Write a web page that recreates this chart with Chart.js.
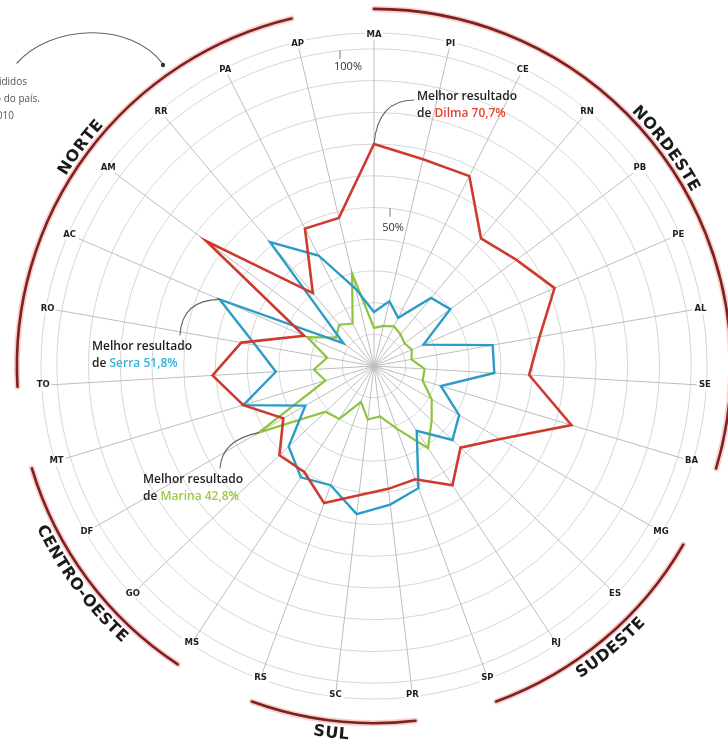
<!DOCTYPE html>
<html><head><meta charset="utf-8">
<script src="https://cdn.jsdelivr.net/npm/chart.js@4"></script>
<style>html,body{margin:0;padding:0;background:#fff;overflow:hidden}</style>
</head><body>
<canvas id="c" width="728" height="744"></canvas>
<script>
const states = ['MA','PI','CE','RN','PB','PE','AL','SE','BA','MG','ES','RJ','SP','PR','SC','RS','MS','GO','DF','MT','TO','RO','AC','AM','RR','PA','AP'];
const dilma  = [70, 67, 67, 52.5, 56, 62, 53, 49, 65, 46, 37.5, 45, 38, 39, 41, 46, 40, 41, 33, 43, 51, 42.5, 24, 66, 30, 48.5, 48];
const serra  = [17, 21, 17, 28, 30, 17, 38, 38, 22, 31, 34, 24.5, 41, 44, 47, 40, 42, 37, 25, 43, 31, 38, 53, 12, 51, 39, 25];
const marina = [12, 13, 14, 13, 12, 13, 12, 16, 16, 21, 25, 31, 21, 16, 17, 12, 20, 21, 42, 16, 19, 15, 23, 15, 17, 15, 30];
const regionNames = ['NORDESTE','SUDESTE','SUL','CENTRO-OESTE','NORTE'];
const regionFirst = ['MA','MG','PR','MS','TO'];
const regionLast  = ['BA','SP','RS','MT','AP'];
const notes = [
  {lines:['Melhor resultado','de ','Dilma 70,7%'], color:'#e8412f'},
  {lines:['Melhor resultado','de ','Serra 51,8%'], color:'#36b2dc'},
  {lines:['Melhor resultado','de ','Marina 42,8%'], color:'#9ccc3c'}
];
const sideText = ['Estados divididos','por região do país.','2010'];

const decor = {
  id:'decor',
  afterDraw(chart){
    const s = chart.scales.r, c = chart.ctx;
    const xc = s.xCenter, yc = s.yCenter;
    const HP = Math.PI/2;
    c.save();
    // category labels on outer ring
    c.font = 'bold 8.5px "DejaVu Sans"';
    c.textAlign='center'; c.textBaseline='middle';
    states.forEach((st,i)=>{
      const p = s.getPointPositionForValue(i, 104.5);
      const w = c.measureText(st).width;
      c.fillStyle='#fff'; c.fillRect(p.x-w/2-2,p.y-5,w+4,10);
      c.fillStyle='#1e1e1e'; c.fillText(st,p.x,p.y);
    });
    // region arcs + labels
    const R = s.getDistanceFromCenterForValue(112.6);
    regionNames.forEach((nm,k)=>{
      const a0 = s.getIndexAngle(states.indexOf(regionFirst[k]));
      let a1 = s.getIndexAngle(states.indexOf(regionLast[k]));
      if (a1 < a0) a1 += Math.PI*2;
      c.lineCap='round';
      c.strokeStyle='rgba(230,120,110,0.35)'; c.lineWidth=6;
      c.beginPath(); c.arc(xc,yc,R,a0-HP,a1-HP); c.stroke();
      c.strokeStyle='#7e2020'; c.lineWidth=2.6;
      c.beginPath(); c.arc(xc,yc,R,a0-HP,a1-HP); c.stroke();
      let mid = (a0+a1)/2; mid = ((mid%(2*Math.PI))+2*Math.PI)%(2*Math.PI);
      c.font='bold 16px "DejaVu Sans"'; c.fillStyle='#1a1a1a';
      c.textAlign='center'; c.textBaseline='alphabetic';
      const sp = 0.6;
      const ws = [...nm].map(ch=>c.measureText(ch).width+sp);
      const tot = ws.reduce((a,b)=>a+b,0)-sp;
      const top = (mid < HP || mid > 3*HP);
      const Rt = top ? R+5 : R+17;
      let cum = 0;
      [...nm].forEach((ch,j)=>{
        const off = (cum + (ws[j]-sp)/2)/Rt;
        const a = top ? mid - tot/(2*Rt) + off : mid + tot/(2*Rt) - off;
        const x = xc + Rt*Math.sin(a), y = yc - Rt*Math.cos(a);
        c.save(); c.translate(x,y); c.rotate(top ? a : a-Math.PI);
        c.fillText(ch,0,0); c.restore();
        cum += ws[j];
      });
    });
    // percentage labels
    const r100 = s.getDistanceFromCenterForValue(100), r50 = s.getDistanceFromCenterForValue(50);
    c.strokeStyle='#777'; c.lineWidth=1;
    c.beginPath(); c.moveTo(xc-34, yc-r100+2); c.lineTo(xc-34, yc-r100+10); c.stroke();
    c.beginPath(); c.moveTo(xc+16, yc-r50+1); c.lineTo(xc+16, yc-r50+9); c.stroke();
    c.font='11px "Open Sans"'; c.fillStyle='#333'; c.textAlign='center'; c.textBaseline='middle';
    c.fillText('100%', xc-26, yc-r100+18);
    c.fillText('50%', xc+19, yc-r50+20);
    // annotations
    const ann = [
      {x:417,y:97, idx:0, val:dilma[0], cx: xc+4, cy: 100, sx:414, sy:100},
      {x:92,y:347, idx:22, val:serra[22], cx:182, cy:300, sx:180, sy:335},
      {x:143,y:480, idx:18, val:marina[18], cx:222, cy:440, sx:220, sy:468}
    ];
    ann.forEach((a,k)=>{
      const n = notes[k];
      const p = s.getPointPositionForValue(a.idx, a.val);
      c.strokeStyle='#666'; c.lineWidth=1.1;
      c.beginPath(); c.moveTo(a.sx,a.sy); c.quadraticCurveTo(a.cx,a.cy,p.x,p.y); c.stroke();
      c.font='600 12px "Open Sans"'; c.textAlign='left'; c.textBaseline='middle';
      c.fillStyle='#222'; c.fillText(n.lines[0], a.x, a.y);
      c.fillText(n.lines[1], a.x, a.y+17);
      const w = c.measureText(n.lines[1]).width;
      c.fillStyle=n.color; c.fillText(n.lines[2], a.x+w, a.y+17);
    });
    // side note + arrow
    c.font='10px "Open Sans"'; c.fillStyle='#555'; c.textAlign='right';
    c.fillText(sideText[0], 27, 82); c.fillText(sideText[1], 40, 99); c.fillText(sideText[2], 14, 116);
    c.strokeStyle='#666'; c.lineWidth=1.2;
    c.beginPath(); c.moveTo(17,63); c.bezierCurveTo(50,25,130,20,163,64); c.stroke();
    c.fillStyle='#333'; c.beginPath(); c.arc(163,65,2.2,0,Math.PI*2); c.fill();
    c.restore();
  }
};

new Chart(document.getElementById('c'), {
  type:'radar',
  data:{labels:states, datasets:[
    {label:'Dilma', data:dilma, borderColor:'#cf3a2e', borderWidth:2.6, fill:false, pointRadius:0, tension:0},
    {label:'Serra', data:serra, borderColor:'#2b9cc6', borderWidth:2.4, fill:false, pointRadius:0, tension:0},
    {label:'Marina', data:marina, borderColor:'#8dc43e', borderWidth:2.2, fill:false, pointRadius:0, tension:0}
  ]},
  options:{
    responsive:false, animation:false, devicePixelRatio:1,
    layout:{padding:{left:41, top:33, right:21, bottom:45}},
    plugins:{legend:{display:false}, tooltip:{enabled:false}},
    scales:{r:{
      min:0, max:105,
      ticks:{display:false, stepSize:5},
      pointLabels:{display:false},
      grid:{circular:true, lineWidth:1, color:(ctx)=> (ctx.tick && (ctx.tick.value%10===0 || ctx.tick.value===105)) ? '#d6d6d6' : 'rgba(0,0,0,0)'},
      angleLines:{color:'#bdbdbd', lineWidth:1}
    }}
  },
  plugins:[decor]
});
</script>
</body></html>
